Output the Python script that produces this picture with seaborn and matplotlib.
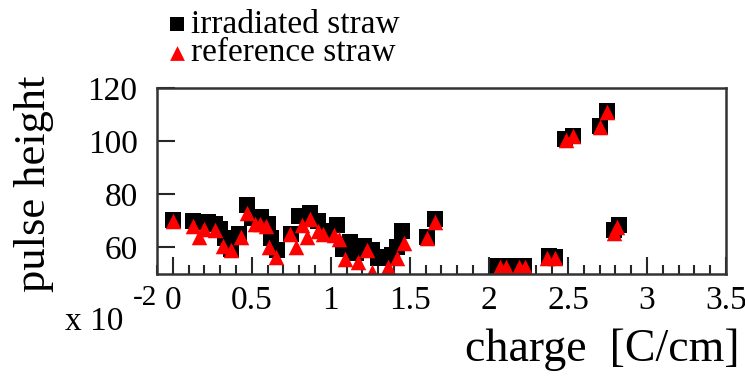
import matplotlib
matplotlib.use("Agg")
import matplotlib.pyplot as plt
from matplotlib.ticker import MultipleLocator, FixedLocator, FuncFormatter
import seaborn as sns
import pandas as pd

# Charge in units of 1e-2 C/cm, pulse height in arbitrary units
irr_charge = [0.00, 0.13, 0.18, 0.22, 0.27, 0.30, 0.33, 0.37, 0.42, 0.47,
              0.50, 0.56, 0.60, 0.62, 0.66, 0.75, 0.80, 0.87, 0.92, 0.96,
              1.04, 1.08, 1.12, 1.16, 1.21, 1.26, 1.30, 1.34, 1.39, 1.42,
              1.45, 1.61, 1.66, 2.06, 2.12, 2.22, 2.38, 2.42, 2.48, 2.53,
              2.70, 2.75, 2.79, 2.82]
irr_height = [70.3, 70.0, 69.5, 69.5, 69.0, 67.0, 63.5, 59.5, 65.0, 76.0,
              71.0, 71.5, 69.0, 63.5, 59.0, 65.0, 72.0, 73.0, 70.0, 66.0,
              68.5, 59.5, 62.0, 58.0, 60.5, 59.0, 56.0, 56.5, 57.0, 60.0,
              66.0, 64.0, 70.7, 53.0, 53.0, 53.0, 56.8, 56.5, 100.8, 102.0,
              105.7, 111.3, 66.5, 68.5]

ref_charge = [0.00, 0.13, 0.165, 0.20, 0.27, 0.32, 0.37, 0.43, 0.47, 0.52,
              0.55, 0.59, 0.61, 0.65, 0.74, 0.78, 0.82, 0.85, 0.87, 0.92,
              0.95, 1.02, 1.05, 1.09, 1.17, 1.23, 1.26, 1.36, 1.42, 1.46,
              1.61, 1.66, 2.07, 2.11, 2.19, 2.23, 2.37, 2.42, 2.49, 2.53,
              2.70, 2.75, 2.79, 2.81]
ref_height = [70.0, 68.0, 64.0, 67.0, 66.5, 60.5, 59.0, 64.0, 73.0, 69.0,
              69.0, 68.0, 60.0, 56.5, 65.0, 60.0, 68.5, 64.0, 70.7, 66.0,
              65.0, 64.7, 63.0, 55.6, 54.5, 59.0, 50.8, 52.6, 56.0, 61.7,
              63.5, 69.5, 52.6, 52.6, 52.6, 52.6, 56.0, 56.0, 100.4, 102.0,
              105.3, 111.0, 65.5, 67.5]

series_names = ["irradiated straw", "reference straw"]
y_ticks = [60, 80, 100, 120]
x_ticks = [0, 0.5, 1, 1.5, 2, 2.5, 3, 3.5]

sns.set_theme(style="ticks", rc={"axes.edgecolor": "#333333",
                                 "axes.linewidth": 1.8})
plt.rcParams["font.family"] = ["Liberation Serif", "DejaVu Serif"]

irr = pd.DataFrame({"charge": irr_charge, "height": irr_height})
ref = pd.DataFrame({"charge": ref_charge, "height": ref_height})

fig = plt.figure(figsize=(7.45, 3.76), dpi=100)
ax = fig.add_axes([0.2107, 0.2713, 0.7638, 0.4947])

sns.scatterplot(data=irr, x="charge", y="height", ax=ax, marker="s",
                color="black", s=125, linewidth=0, label=series_names[0])
sns.scatterplot(data=ref, x="charge", y="height", ax=ax, marker="^",
                color="#ff0000", s=125, linewidth=0, label=series_names[1])

ax.set_xlim(-0.1, 3.5)
ax.set_ylim(50, 120)
ax.xaxis.set_major_locator(FixedLocator(x_ticks))
ax.xaxis.set_major_formatter(FuncFormatter(lambda v, pos: f"{v:g}"))
ax.xaxis.set_minor_locator(MultipleLocator(0.1))
ax.yaxis.set_major_locator(FixedLocator(y_ticks))
ax.yaxis.set_major_formatter(FuncFormatter(lambda v, pos: f"{v:g}"))
ax.set(xlabel="", ylabel="")


def style_ticks():
    ax.tick_params(axis="x", which="major", direction="in", length=12.5,
                   width=1.5, labelsize=24, pad=8, labelcolor="black",
                   bottom=True, top=False)
    ax.tick_params(axis="x", which="minor", direction="in", length=6.5,
                   width=1.5, bottom=True, top=False)
    ax.tick_params(axis="y", which="major", direction="in", length=13,
                   width=1.5, labelsize=24, pad=14, labelcolor="black",
                   left=True, right=False)


style_ticks()

fig.text(0.993, 0.012, "charge  [C/cm]", ha="right", va="bottom",
         fontsize=33, color="black")
fig.text(0.045, 0.51, "pulse height", ha="center", va="center",
         rotation=90, fontsize=32, color="black")
fig.text(0.087, 0.143, "x 10", ha="left", va="center", fontsize=24,
         color="black")
fig.text(0.178, 0.208, "-2", ha="left", va="center", fontsize=21,
         color="black")

leg = ax.legend(loc="upper left", bbox_to_anchor=(0.205, 1.02),
                bbox_transform=fig.transFigure, frameon=False, fontsize=24,
                handlelength=0.45, handletextpad=0.2, labelspacing=-0.05,
                borderpad=0.0, markerscale=0.95)
for txt in leg.get_texts():
    txt.set_color("black")

style_ticks()
fig.savefig("out.png", dpi=100)
